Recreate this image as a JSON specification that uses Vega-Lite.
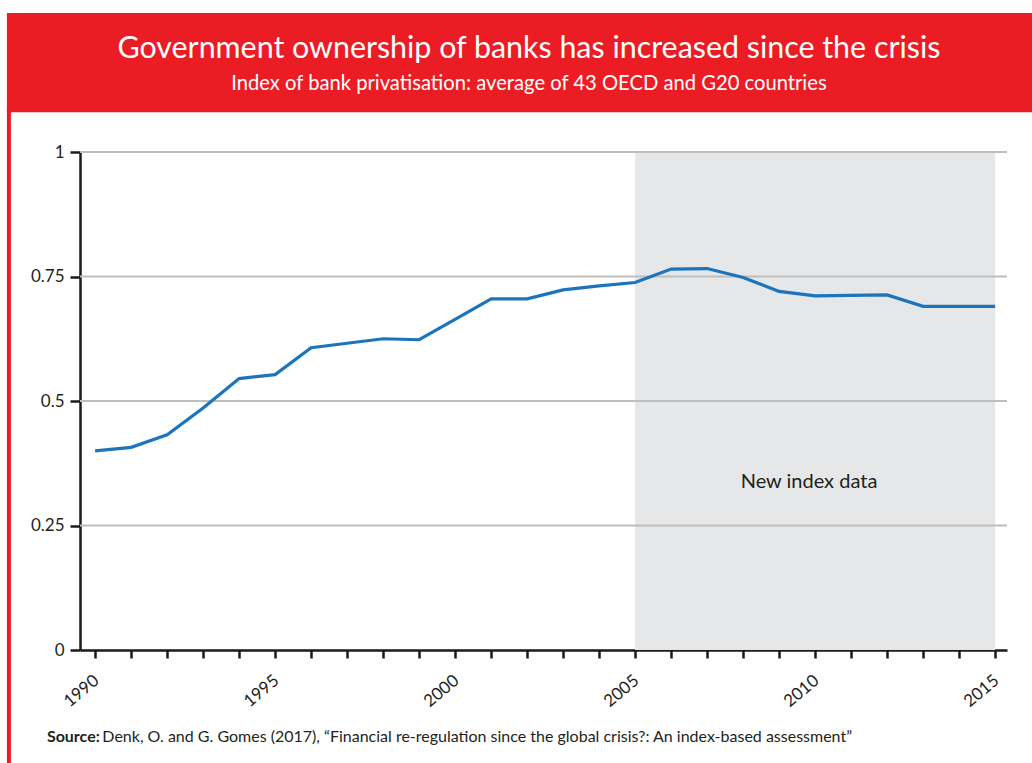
{
  "$schema": "https://vega.github.io/schema/vega-lite/v6.json",
  "width": 927,
  "height": 498,
  "autosize": {"type": "none"},
  "padding": {"left": 80, "top": 152, "right": 25, "bottom": 113},
  "background": "white",
  "config": {
    "view": {"stroke": null},
    "font": "Lato",
    "text": {"font": "Lato"}
  },
  "datasets": {
    "series": [
      {"year": 1990, "value": 0.400},
      {"year": 1991, "value": 0.407},
      {"year": 1992, "value": 0.432},
      {"year": 1993, "value": 0.486},
      {"year": 1994, "value": 0.545},
      {"year": 1995, "value": 0.553},
      {"year": 1996, "value": 0.607},
      {"year": 1997, "value": 0.616},
      {"year": 1998, "value": 0.625},
      {"year": 1999, "value": 0.623},
      {"year": 2000, "value": 0.664},
      {"year": 2001, "value": 0.705},
      {"year": 2002, "value": 0.705},
      {"year": 2003, "value": 0.723},
      {"year": 2004, "value": 0.731},
      {"year": 2005, "value": 0.738},
      {"year": 2006, "value": 0.765},
      {"year": 2007, "value": 0.766},
      {"year": 2008, "value": 0.748},
      {"year": 2009, "value": 0.720},
      {"year": 2010, "value": 0.711},
      {"year": 2011, "value": 0.712},
      {"year": 2012, "value": 0.713},
      {"year": 2013, "value": 0.690},
      {"year": 2014, "value": 0.690},
      {"year": 2015, "value": 0.690}
    ],
    "period": [{"start": 2005, "end": 2015, "label": "New index data"}],
    "grid": [{"g": 0.25}, {"g": 0.5}, {"g": 0.75}, {"g": 1}],
    "titles": [
      {"title": "Government ownership of banks has increased since the crisis",
       "subtitle": "Index of bank privatisation: average of 43 OECD and G20 countries",
       "sourceLabel": "Source:",
       "source": "Denk, O. and G. Gomes (2017), \u201cFinancial re-regulation since the global crisis?: An index-based assessment\u201d"}
    ]
  },
  "layer": [
    {
      "data": {"name": "period"},
      "mark": {"type": "rect", "color": "#E6E7E9"},
      "encoding": {
        "x": {"field": "start", "type": "quantitative",
              "scale": {"domain": [1989.58, 2015.33], "nice": false, "zero": false}},
        "x2": {"field": "end"},
        "y": {"datum": 0, "type": "quantitative",
              "scale": {"domain": [0, 1], "nice": false}},
        "y2": {"datum": 1}
      }
    },
    {
      "data": {"name": "grid"},
      "mark": {"type": "rule", "color": "#BEBEBE", "strokeWidth": 2},
      "encoding": {"y": {"field": "g", "type": "quantitative"}}
    },
    {
      "data": {"name": "series"},
      "mark": {"type": "line", "color": "#1C75BC", "strokeWidth": 3.2},
      "encoding": {
        "x": {"field": "year", "type": "quantitative",
              "axis": {
                "values": [1990,1991,1992,1993,1994,1995,1996,1997,1998,1999,2000,2001,2002,2003,2004,2005,2006,2007,2008,2009,2010,2011,2012,2013,2014,2015],
                "tickCount": 26,
                "labelExpr": "datum.value % 5 === 0 ? '' + datum.value : ''",
                "labelOverlap": false, "labelBound": false, "labelFlush": false,
                "title": null, "grid": false,
                "domainColor": "#1a1a1a", "domainWidth": 2.5,
                "tickColor": "#1a1a1a", "tickWidth": 2.5, "tickSize": 8,
                "labelAngle": -40, "labelAlign": "right", "labelBaseline": "top",
                "labelPadding": 14, "labelOffset": -4, "labelFontSize": 17, "labelColor": "#231F20",
                "labelFont": "Lato"
              }},
        "y": {"field": "value", "type": "quantitative",
              "axis": {
                "values": [0, 0.25, 0.5, 0.75, 1],
                "labelExpr": "'' + datum.value",
                "labelOverlap": false, "labelBound": false, "labelFlush": false,
                "title": null, "grid": false,
                "domainColor": "#1a1a1a", "domainWidth": 2.5,
                "tickColor": "#1a1a1a", "tickWidth": 2.5, "tickSize": 10,
                "labelPadding": 6, "labelFontSize": 17, "labelColor": "#231F20",
                "labelFont": "Lato"
              }}
      }
    },
    {
      "data": {"name": "period"},
      "mark": {"type": "text", "fontSize": 20, "color": "#231F20", "align": "center", "baseline": "middle"},
      "encoding": {
        "x": {"datum": 2009.83, "type": "quantitative"},
        "y": {"datum": 0.337, "type": "quantitative"},
        "text": {"field": "label"}
      }
    },
    {
      "data": {"values": [{}]},
      "mark": {"type": "rect", "color": "#EC1C24"},
      "encoding": {
        "x": {"datum": 1987.55, "type": "quantitative"},
        "x2": {"datum": 2016.1},
        "y": {"datum": 1.08, "type": "quantitative"},
        "y2": {"datum": 1.279}
      }
    },
    {
      "data": {"values": [{}]},
      "mark": {"type": "rect", "color": "#EC1C24"},
      "encoding": {
        "x": {"datum": 1987.55, "type": "quantitative"},
        "x2": {"datum": 1987.66},
        "y": {"datum": -0.23, "type": "quantitative"},
        "y2": {"datum": 1.09}
      }
    },
    {
      "data": {"name": "titles"},
      "mark": {"type": "text", "fontSize": 30.4, "color": "white", "align": "center", "baseline": "alphabetic"},
      "encoding": {
        "x": {"datum": 2002.05, "type": "quantitative"},
        "y": {"datum": 1.189, "type": "quantitative"},
        "text": {"field": "title"}
      }
    },
    {
      "data": {"name": "titles"},
      "mark": {"type": "text", "fontSize": 20.2, "color": "white", "align": "center", "baseline": "alphabetic"},
      "encoding": {
        "x": {"datum": 2002.05, "type": "quantitative"},
        "y": {"datum": 1.124, "type": "quantitative"},
        "text": {"field": "subtitle"}
      }
    },
    {
      "data": {"name": "titles"},
      "mark": {"type": "text", "fontSize": 16, "fontWeight": "bold", "color": "#231F20", "align": "left", "baseline": "alphabetic"},
      "encoding": {
        "x": {"datum": 1988.66, "type": "quantitative"},
        "y": {"datum": -0.185, "type": "quantitative"},
        "text": {"field": "sourceLabel"}
      }
    },
    {
      "data": {"name": "titles"},
      "mark": {"type": "text", "fontSize": 16, "color": "#231F20", "align": "left", "baseline": "alphabetic"},
      "encoding": {
        "x": {"datum": 1990.2, "type": "quantitative"},
        "y": {"datum": -0.185, "type": "quantitative"},
        "text": {"field": "source"}
      }
    }
  ]
}
